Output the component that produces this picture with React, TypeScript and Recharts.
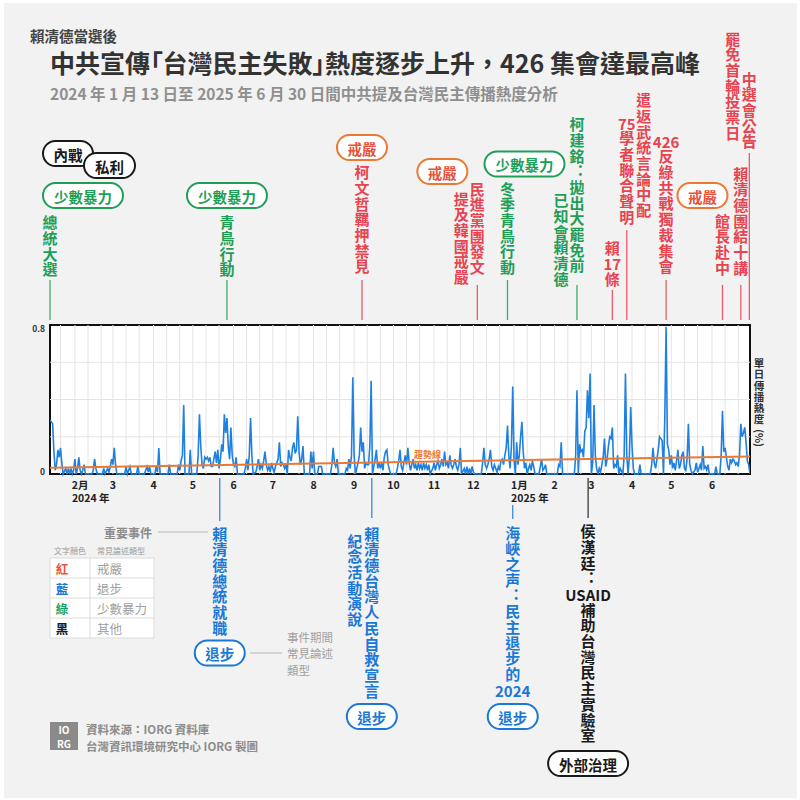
import React from 'react';
import { ComposedChart, Line, XAxis, YAxis, CartesianGrid, ReferenceLine, ReferenceArea, ReferenceDot } from 'recharts';

const FONT = '"Noto Sans CJK TC", "Noto Sans CJK SC", "Noto Sans", sans-serif';
const RED = '#e8434f';
const GREEN = '#1f9e57';
const BLUE = '#1a78d6';
const ORANGE = '#ea7a33';
const ORANGE_TEXT = '#e5533b';
const BLACK = '#1a1a1a';
const GRAY = '#8c8c8c';
const LINE_BLUE = '#1f80e0';

// ---- time axis (day index counted from 2024-01-13) ----
const START = Date.UTC(2024, 0, 13);
const END_DAY = 534;
const dayOf = (s: string) => {
  const [y, m, d] = s.split('-').map(Number);
  return Math.round((Date.UTC(y, m - 1, d) - START) / 86400000);
};

const monthStarts = ['2024-02-01', '2024-03-01', '2024-04-01', '2024-05-01', '2024-06-01', '2024-07-01', '2024-08-01', '2024-09-01', '2024-10-01', '2024-11-01', '2024-12-01', '2025-01-01', '2025-02-01', '2025-03-01', '2025-04-01', '2025-05-01', '2025-06-01'];
const monthLabels = ['2', '3', '4', '5', '6', '7', '8', '9', '10', '11', '12', '1', '2', '3', '4', '5', '6'];
const monthSuffix = ['月', '', '', '', '', '', '', '', '', '', '', '月', '', '', '', '', ''];
const yearLabels = ['2024 年', '', '', '', '', '', '', '', '', '', '', '2025 年', '', '', '', '', ''];
const monthTickDays = monthStarts.map(dayOf);

const gridMonths = ['2024-01', '2024-02', '2024-03', '2024-04', '2024-05', '2024-06', '2024-07', '2024-08', '2024-09', '2024-10', '2024-11', '2024-12', '2025-01', '2025-02', '2025-03', '2025-04', '2025-05', '2025-06'];
const gridDays = gridMonths
  .flatMap((m) => ['01', '11', '21'].map((d) => dayOf(`${m}-${d}`)))
  .filter((d) => d > 0 && d < END_DAY);

const yTicks = [0, 0.8];
const yGrid = [0.2, 0.4, 0.6];

// ---- daily heat (%) : [day, value] ----
const heat2024a: [number, number][] = [
  [0, 0.29], [1, 0.28], [2, 0.27], [3, 0.12], [4, 0.02], [5, 0.05], [6, 0.13], [7, 0.09], [8, 0.14], [9, 0.06], [10, 0], [12, 0.03], [13, 0], [14, 0.03], [15, 0], [16, 0.03], [17, 0], [18, 0.02], [19, 0.08], [20, 0], [21, 0.03], [22, 0.09], [23, 0.02], [24, 0], [25, 0.02], [26, 0.05], [27, 0], [32, 0], [33, 0.02], [34, 0.08], [35, 0.03], [36, 0], [40, 0], [41, 0.03], [42, 0], [44, 0.03], [45, 0.01], [46, 0.04], [47, 0.08], [48, 0.05], [49, 0.14], [50, 0.05], [51, 0], [57, 0], [58, 0.04], [59, 0], [60, 0.02], [61, 0.04], [62, 0], [66, 0], [67, 0.04], [68, 0], [72, 0], [73, 0.02], [74, 0.04], [75, 0.01], [76, 0.04], [77, 0], [80, 0], [81, 0.04], [82, 0.01], [83, 0.14], [84, 0], [90, 0], [91, 0.05], [92, 0], [97, 0], [98, 0.05], [99, 0.02], [100, 0.07], [101, 0.1], [102, 0.37], [103, 0], [106, 0], [107, 0.13], [108, 0], [112, 0], [113, 0.1], [114, 0.32], [115, 0.15], [116, 0.05], [117, 0.03], [118, 0.09], [119, 0.08], [120, 0.09], [121, 0.07], [122, 0.09], [123, 0.04], [124, 0.04], [125, 0.08], [126, 0.12], [127, 0.06], [128, 0.13], [129, 0.03], [130, 0.08], [131, 0.16], [132, 0.12], [133, 0.32], [134, 0.22], [135, 0.3], [136, 0.15], [137, 0.08], [138, 0.25], [139, 0.1], [140, 0.05], [141, 0.04], [142, 0.09], [143, 0], [148, 0], [149, 0.03], [150, 0.08], [151, 0.02], [152, 0.1], [153, 0.3], [154, 0.1], [155, 0], [157, 0.01], [158, 0.04], [159, 0.08], [160, 0.02], [161, 0.05], [162, 0.03], [163, 0.07], [164, 0.12], [165, 0.05], [166, 0.02], [167, 0.04], [168, 0.01], [169, 0.06], [170, 0.03], [171, 0.01], [172, 0.04], [173, 0.06], [174, 0.08], [175, 0.17], [176, 0.04], [177, 0.06],
];
const heat2024b: [number, number][] = [
  [178, 0.05], [179, 0.03], [180, 0.05], [181, 0], [182, 0.13], [183, 0.09], [184, 0.07], [185, 0.14], [186, 0.17], [187, 0.11], [188, 0.13], [189, 0.31], [190, 0.12], [191, 0.05], [192, 0.08], [193, 0.15], [194, 0], [198, 0], [199, 0.12], [200, 0.03], [201, 0.12], [202, 0], [204, 0], [205, 0.04], [206, 0.04], [207, 0.04], [208, 0], [214, 0], [215, 0.05], [216, 0.14], [217, 0.06], [218, 0.04], [219, 0.08], [220, 0], [225, 0], [226, 0.03], [227, 0.02], [228, 0.08], [229, 0.03], [230, 0.1], [231, 0.52], [232, 0.1], [233, 0], [235, 0.06], [236, 0.1], [237, 0.25], [238, 0.12], [239, 0.17], [240, 0.03], [241, 0.06], [242, 0.05], [243, 0.05], [244, 0.15], [245, 0.5], [246, 0], [247, 0.04], [248, 0.08], [249, 0.13], [250, 0.03], [251, 0.06], [252, 0.03], [253, 0.06], [254, 0.02], [255, 0.09], [256, 0.12], [257, 0.13], [258, 0.05], [259, 0.02], [260, 0], [264, 0], [265, 0.03], [266, 0.07], [267, 0.13], [268, 0.04], [269, 0.02], [270, 0.06], [271, 0.1], [272, 0.05], [273, 0.14], [274, 0.06], [275, 0.02], [276, 0.05], [277, 0.08], [278, 0.03], [279, 0.05], [280, 0.02], [281, 0.06], [282, 0.03], [283, 0.05], [284, 0.02], [285, 0.06], [286, 0.03], [287, 0.05], [288, 0.02], [289, 0.05], [290, 0], [292, 0.03], [293, 0.06], [294, 0.02], [295, 0.05], [296, 0.07], [297, 0.03], [298, 0.05], [299, 0.08], [300, 0.04], [301, 0.12], [302, 0.05], [303, 0.06], [304, 0.03], [305, 0.1], [306, 0.05], [307, 0.03], [308, 0.05], [309, 0.08], [310, 0.04], [311, 0.02], [312, 0.05], [313, 0.14], [314, 0], [316, 0.03], [317, 0], [318, 0.04], [319, 0], [320, 0.03], [321, 0], [322, 0.04], [323, 0.01], [324, 0], [329, 0], [330, 0.06], [331, 0.14], [332, 0.05], [333, 0.03], [334, 0.05], [335, 0.08], [336, 0.13], [337, 0.04], [338, 0.02], [339, 0.05], [340, 0.03], [341, 0.01], [342, 0.04], [343, 0.02], [344, 0.07], [345, 0.08], [346, 0.05], [347, 0.1], [348, 0.14], [349, 0.26], [350, 0.1], [351, 0.03], [352, 0.15], [353, 0.47], [354, 0.08],
];
const heat2025: [number, number][] = [
  [355, 0], [356, 0.17], [357, 0.05], [358, 0.1], [359, 0.2], [360, 0.28], [361, 0.12], [362, 0.03], [363, 0.06], [364, 0], [365, 0.03], [366, 0.05], [367, 0.02], [368, 0.07], [369, 0.04], [370, 0], [373, 0], [374, 0.04], [375, 0.08], [376, 0.02], [377, 0.03], [378, 0.05], [379, 0], [387, 0], [388, 0.05], [389, 0.04], [390, 0.17], [391, 0], [400, 0], [401, 0.1], [402, 0.45], [403, 0], [404, 0.16], [405, 0.12], [406, 0.13], [407, 0.09], [408, 0.23], [409, 0.25], [410, 0.45], [411, 0.3], [412, 0.54], [413, 0], [414, 0.06], [415, 0.37], [416, 0.1], [417, 0.03], [418, 0], [419, 0.03], [420, 0.01], [421, 0.05], [422, 0.09], [423, 0.19], [424, 0.04], [425, 0.08], [426, 0.15], [427, 0.2], [428, 0.19], [429, 0.25], [430, 0.03], [431, 0.05], [432, 0.04], [433, 0.1], [434, 0], [435, 0.03], [437, 0], [438, 0.1], [439, 0.54], [440, 0.1], [441, 0], [442, 0.1], [443, 0.36], [444, 0.15], [445, 0.03], [446, 0], [449, 0], [450, 0.05], [451, 0], [458, 0], [459, 0.05], [460, 0.14], [461, 0.06], [462, 0.03], [463, 0.08], [464, 0.13], [465, 0.2], [466, 0.19], [467, 0.18], [468, 0], [469, 0.3], [470, 0.79], [471, 0.16], [472, 0.13], [473, 0.05], [474, 0.1], [475, 0.03], [476, 0.06], [477, 0.02], [478, 0.07], [479, 0.13], [480, 0.03], [481, 0.05], [482, 0.1], [483, 0.12], [484, 0.03], [485, 0.02], [486, 0.08], [487, 0.27], [488, 0.05], [489, 0.02], [490, 0], [492, 0.02], [493, 0.06], [494, 0.01], [495, 0.03], [496, 0.05], [497, 0.02], [498, 0.15], [499, 0.03], [500, 0.04], [501, 0.02], [502, 0.05], [503, 0], [507, 0], [508, 0.04], [509, 0], [511, 0], [512, 0.1], [513, 0.34], [514, 0.12], [515, 0.14], [516, 0.09], [517, 0.04], [518, 0.02], [519, 0.08], [520, 0.06], [521, 0.08], [522, 0.07], [523, 0.05], [524, 0.06], [525, 0.04], [526, 0.1], [527, 0.27], [528, 0.2], [529, 0.22], [530, 0.25], [531, 0.17], [532, 0.07], [533, 0.05], [534, 0],
];
const heatData = [...heat2024a, ...heat2024b, ...heat2025].map(([day, v]) => ({ day, v }));

// trend line end values
const trendStart = 0.034;
const trendEnd = 0.094;
const trendLabelDay = 288;

// ---- events ----
type Tone = 'black' | 'green' | 'orange' | 'blue';
type Col = { text: string; dx: number; y0: number };
type PillSpec = { text: string; tone: Tone; dx: number; cy: number; w: number };
type EventSpec = { day: number; color: string; cols: Col[]; line?: [number, number]; pills?: PillSpec[] };

const events: EventSpec[] = [
  { day: 0, color: GREEN, cols: [{ text: '總統大選', dx: 0, y0: 222.5 }], line: [280, 320],
    pills: [{ text: '內戰', tone: 'black', dx: 18, cy: 153.5, w: 50 }, { text: '私利', tone: 'black', dx: 59.5, cy: 165.5, w: 51 }, { text: '少數暴力', tone: 'green', dx: 33, cy: 195.5, w: 80 }] },
  { day: 135, color: GREEN, cols: [{ text: '青鳥行動', dx: 0, y0: 222.5 }], line: [280, 320],
    pills: [{ text: '少數暴力', tone: 'green', dx: 0, cy: 195.5, w: 80 }] },
  { day: 238, color: RED, cols: [{ text: '柯文哲羈押禁見', dx: 0, y0: 172.5 }], line: [280, 320],
    pills: [{ text: '戒嚴', tone: 'orange', dx: 0, cy: 147.5, w: 50 }] },
  { day: 326, color: RED, cols: [{ text: '民進黨團發文', dx: 0, y0: 189 }, { text: '提及韓國戒嚴', dx: -16, y0: 199 }], line: [285, 320],
    pills: [{ text: '戒嚴', tone: 'orange', dx: -35, cy: 171.5, w: 50 }] },
  { day: 349, color: GREEN, cols: [{ text: '冬季青鳥行動', dx: 0, y0: 189 }], line: [280, 320],
    pills: [{ text: '少數暴力', tone: 'green', dx: 17, cy: 164, w: 80 }] },
  { day: 402, color: GREEN, cols: [{ text: '柯建銘：拋出大罷免前', dx: 0, y0: 124.5 }, { text: '已知會賴清德', dx: -16, y0: 200.5 }], line: [285, 320] },
  { day: 429, color: RED, cols: [{ text: '賴17條', dx: 0, y0: 248 }], line: [290, 320] },
  { day: 440, color: RED, cols: [{ text: '75學者聯合聲明', dx: 0, y0: 123 }], line: [230, 320] },
  { day: 453, color: RED, cols: [{ text: '遣返武統言論中配', dx: 0, y0: 100.5 }] },
  { day: 470, color: RED, cols: [{ text: '426反綠共戰獨裁集會', dx: 0, y0: 141 }], line: [280, 320] },
  { day: 513, color: RED, cols: [{ text: '館長赴中', dx: 0, y0: 221 }], line: [285, 320],
    pills: [{ text: '戒嚴', tone: 'orange', dx: -20, cy: 195.5, w: 50 }] },
  { day: 527, color: RED, cols: [{ text: '賴清德團結十講', dx: 0, y0: 174 }], line: [285, 320] },
  { day: 533.5, color: RED, cols: [{ text: '中選會公告', dx: 0, y0: 79 }, { text: '罷免首輪投票日', dx: -16.5, y0: 39 }], line: [153, 320] },
  { day: 129.5, color: BLUE, cols: [{ text: '賴清德總統就職', dx: 0, y0: 534 }], line: [478, 521],
    pills: [{ text: '退步', tone: 'blue', dx: 0, cy: 653, w: 50 }] },
  { day: 245.5, color: BLUE, cols: [{ text: '賴清德台灣人民自救宣言', dx: 0, y0: 534 }, { text: '紀念活動演說', dx: -17, y0: 541 }], line: [478, 518],
    pills: [{ text: '退步', tone: 'blue', dx: 0, cy: 716.5, w: 50 }] },
  { day: 353, color: BLUE, cols: [{ text: '海峽之声：民主退步的2024', dx: 0, y0: 533 }], line: [505, 519],
    pills: [{ text: '退步', tone: 'blue', dx: 0, cy: 716.5, w: 50 }] },
  { day: 410.5, color: BLACK, cols: [{ text: '侯漢廷：USAID補助台灣民主實驗室', dx: 0, y0: 531.5 }], line: [478, 518],
    pills: [{ text: '外部治理', tone: 'black', dx: 0, cy: 763.5, w: 80 }] },
];

const toneStroke: Record<Tone, string> = { black: BLACK, green: GREEN, orange: ORANGE, blue: BLUE };
const toneText: Record<Tone, string> = { black: BLACK, green: GREEN, orange: ORANGE_TEXT, blue: BLUE };

const legendRows = [
  { c: '紅', color: ORANGE_TEXT, t: '戒嚴' },
  { c: '藍', color: BLUE, t: '退步' },
  { c: '綠', color: GREEN, t: '少數暴力' },
  { c: '黑', color: BLACK, t: '其他' },
];

const yAxisTitle = ['單', '日', '傳', '播', '熱', '度'];

const STEP = 15.7;
const VSIZE = 15;
const tokens = (s: string) => s.match(/[A-Za-z0-9]+|./gu) || [];
const isSingleGlyph = (t: string) => t.length === 1 && !/[A-Za-z0-9]/.test(t);

// one upright glyph (vertical writing mode keeps its box as tall as its advance)
function VChar({ x, cy, ch, color, size }: { x: number; cy: number; ch: string; color: string; size: number }) {
  const style: React.CSSProperties = { writingMode: 'vertical-rl' };
  if (ch === '：') (style as any).fontFeatureSettings = '"vert" 0, "vrt2" 0';
  return (
    <text x={x} y={cy - size / 2} style={style} fill={color} fontSize={size} fontWeight={700} fontFamily={FONT}>{ch}</text>
  );
}

function VCol({ x, y0, text, color }: { x: number; y0: number; text: string; color: string }) {
  return (
    <g>
      {tokens(text).map((t, i) =>
        isSingleGlyph(t) ? (
          <VChar key={i} x={x} cy={y0 + i * STEP} ch={t} color={color} size={VSIZE} />
        ) : (
          <text key={i} x={x} y={y0 + i * STEP} textAnchor="middle" dominantBaseline="central"
            fill={color} fontSize={VSIZE} fontWeight={700} fontFamily={FONT}>{t}</text>
        )
      )}
    </g>
  );
}

function Pill({ cx, cy, w, text, tone }: { cx: number; cy: number; w: number; text: string; tone: Tone }) {
  const h = 25;
  return (
    <g>
      <rect x={cx - w / 2} y={cy - h / 2} width={w} height={h} rx={h / 2} fill="#fff" stroke={toneStroke[tone]} strokeWidth={2} />
      <text x={cx} y={cy + 0.5} textAnchor="middle" dominantBaseline="central" fill={toneText[tone]} fontSize={14.5} fontWeight={700} fontFamily={FONT}>{text}</text>
    </g>
  );
}

function EventMark(props: any) {
  const { viewBox, ev } = props;
  const x = viewBox && typeof viewBox.x === 'number' ? viewBox.x : 0;
  const e: EventSpec = ev;
  return (
    <g>
      {e.line && <line x1={x} x2={x} y1={e.line[0]} y2={e.line[1]} stroke={e.color} strokeWidth={1.3} opacity={0.85} />}
      {e.cols.map((c, i) => <VCol key={i} x={x + c.dx} y0={c.y0} text={c.text} color={e.color} />)}
      {(e.pills || []).map((p, i) => <Pill key={i} cx={x + p.dx} cy={p.cy} w={p.w} text={p.text} tone={p.tone} />)}
    </g>
  );
}

function MonthTick(props: any) {
  const { x, payload } = props;
  const i = monthTickDays.indexOf(payload.value);
  if (i < 0) return null;
  return (
    <g fontFamily={FONT} fontWeight={700} fill="#222" fontSize={10.5}>
      <text y={483.5} dominantBaseline="central">
        <tspan x={x} textAnchor="middle">{monthLabels[i]}</tspan>
        {monthSuffix[i] && <tspan x={x + 3.2} textAnchor="start">{monthSuffix[i]}</tspan>}
      </text>
      {yearLabels[i] && <text x={x - 3} y={497.5} textAnchor="start" dominantBaseline="central">{yearLabels[i]}</text>}
    </g>
  );
}

function YTick(props: any) {
  const { y, payload } = props;
  const dy = payload.value === 0 ? -3 : 3;
  return (
    <text x={45} y={y + dy} textAnchor="end" dominantBaseline="central" fontFamily={FONT} fontWeight={700} fontSize={8.5} fill="#333">{String(payload.value)}</text>
  );
}

export default function App() {
  const trendAt = (d: number) => trendStart + ((trendEnd - trendStart) * d) / END_DAY;
  return (
    <div style={{ position: 'absolute', left: 0, top: 0, width: 800, height: 800, background: '#fff', fontFamily: FONT, overflow: 'hidden' }}>
      <div style={{ position: 'absolute', left: 4, top: 3, right: 3, bottom: 2, background: '#f2f2f2' }} />
      <div style={{ position: 'absolute', left: 0, top: 0 }}>
        <ComposedChart width={800} height={800} data={heatData} margin={{ top: 325, right: 50, bottom: 296, left: 49 }}>
          <CartesianGrid fill="#fff" horizontal={false} vertical={false} />
          {gridDays.map((d) => (
            <ReferenceLine key={'g' + d} x={d} stroke="#e4e4e4" strokeWidth={1} />
          ))}
          {yGrid.map((v) => (
            <ReferenceLine key={'h' + v} y={v} stroke="#e4e4e4" strokeWidth={1} />
          ))}
          <XAxis dataKey="day" type="number" domain={[0, END_DAY]} ticks={monthTickDays} interval={0} tick={<MonthTick />} axisLine={false} tickLine={false} height={30} allowDataOverflow />
          <YAxis type="number" domain={[0, 0.8]} ticks={yTicks} tick={<YTick />} axisLine={false} tickLine={false} width={1} />
          <Line dataKey="v" type="linear" stroke={LINE_BLUE} strokeWidth={1.6} dot={false} isAnimationActive={false} />
          <ReferenceLine segment={[{ x: 0, y: trendStart }, { x: END_DAY, y: trendEnd }]} stroke={ORANGE} strokeWidth={2} />
          <ReferenceDot x={trendLabelDay} y={trendAt(trendLabelDay)} r={0} fill="none" stroke="none"
            label={{ value: '趨勢線', position: 'top', offset: 4, fill: ORANGE, fontSize: 9, fontWeight: 700, fontFamily: FONT }} />
          <ReferenceArea x1={0} x2={END_DAY} y1={0} y2={0.8} fill="none" stroke="#111" strokeWidth={2} />
          {events.map((e, i) => (
            <ReferenceLine key={'e' + i} x={e.day} stroke="none" ifOverflow="visible" label={<EventMark ev={e} />} />
          ))}
        </ComposedChart>
      </div>
      <svg width={800} height={800} style={{ position: 'absolute', left: 0, top: 0, pointerEvents: 'none' }} fontFamily={FONT}>
        <text x={30} y={35} dominantBaseline="central" fontSize={14.5} fontWeight={700} fill="#444">賴清德當選後</text>
        <text x={50} y={62} dominantBaseline="central" fontSize={25} fontWeight={700} fill="#333">
          <tspan style={{ fontFeatureSettings: '"palt"' }}>中共宣傳「台灣民主失敗」</tspan>
          <tspan>熱度逐步上升，426 集會達最高峰</tspan>
        </text>
        <text x={50} y={93} dominantBaseline="central" fontSize={15.5} fontWeight={700} fill="#8f8f8f">2024 年 1 月 13 日至 2025 年 6 月 30 日間中共提及台灣民主傳播熱度分析</text>

        {yAxisTitle.map((c, i) => (
          <VChar key={i} x={759} cy={363 + i * 11.3} ch={c} color="#333" size={10.5} />
        ))}
        <text x={759} y={429} style={{ writingMode: 'vertical-rl' }} fontSize={10.5} fontWeight={700} fill="#333">(%)</text>

        <text x={152} y={532} textAnchor="end" dominantBaseline="central" fontSize={12} fontWeight={700} fill={GRAY}>重要事件</text>
        <line x1={158} x2={208} y1={532} y2={532} stroke="#b5b5b5" strokeWidth={1} />
        <text x={54} y={550} dominantBaseline="central" fontSize={8} fill="#9a9a9a">文字顏色</text>
        <text x={97} y={550} dominantBaseline="central" fontSize={8} fill="#9a9a9a">常見論述類型</text>
        <rect x={50} y={558} width={104} height={80} fill="#fff" stroke="#dcdcdc" strokeWidth={1} />
        <line x1={90} x2={90} y1={558} y2={638} stroke="#dcdcdc" />
        {[578, 598, 618].map((y) => (
          <line key={y} x1={50} x2={154} y1={y} y2={y} stroke="#dcdcdc" />
        ))}
        {legendRows.map((r, i) => (
          <g key={i}>
            <text x={62} y={568 + i * 20} textAnchor="middle" dominantBaseline="central" fontSize={12.5} fontWeight={700} fill={r.color}>{r.c}</text>
            <text x={97} y={568 + i * 20} dominantBaseline="central" fontSize={12.5} fill="#a0a0a0">{r.t}</text>
          </g>
        ))}
        <line x1={250} x2={282} y1={653} y2={653} stroke="#b5b5b5" strokeWidth={1} />
        {['事件期間', '常見論述', '類型'].map((t, i) => (
          <text key={t} x={287} y={636.5 + i * 16.8} dominantBaseline="central" fontSize={11.5} fill="#a0a0a0">{t}</text>
        ))}

        <rect x={50} y={722} width={28} height={28} fill="#8a8a8a" />
        <text x={64} y={729.5} textAnchor="middle" dominantBaseline="central" fontSize={10} fontWeight={700} fill="#fff">IO</text>
        <text x={64} y={743} textAnchor="middle" dominantBaseline="central" fontSize={10} fontWeight={700} fill="#fff">RG</text>
        <text x={86} y={728.5} dominantBaseline="central" fontSize={11.5} fontWeight={700} fill={GRAY}>資料來源：IORG 資料庫</text>
        <text x={86} y={745.5} dominantBaseline="central" fontSize={11.5} fontWeight={700} fill={GRAY}>台灣資訊環境研究中心 IORG 製圖</text>
      </svg>
    </div>
  );
}
